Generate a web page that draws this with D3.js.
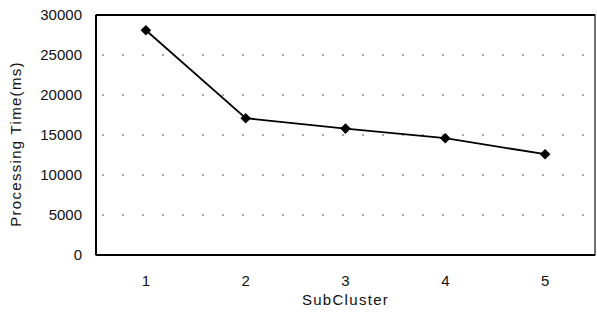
<!DOCTYPE html>
<html><head><meta charset="utf-8">
<script src="https://cdn.jsdelivr.net/npm/d3@7"></script>
<style>body{margin:0;background:#fff}svg{display:block}text{font-family:"Liberation Sans",Arial,sans-serif;fill:#111}</style>
</head><body><svg id="c" width="597" height="315"></svg>
<script>
const categories = ["1","2","3","4","5"];
const values = [28100, 17100, 15800, 14600, 12600];
const yTicks = [0,5000,10000,15000,20000,25000,30000];

const svg = d3.select("#c");
const m = {l:96, r:595, t:15, b:255};
const x = d3.scaleBand().domain(categories).range([m.l, m.r]);
const y = d3.scaleLinear().domain([0,30000]).range([m.b, m.t]);
const FONT = '"Liberation Sans",Arial,sans-serif';

// grid
svg.append("g").selectAll("line").data(yTicks.filter(d=>d>0&&d<30000)).join("line")
  .attr("x1", m.l+6).attr("x2", m.r).attr("y1", d=>y(d)).attr("y2", d=>y(d))
  .attr("stroke","#555").attr("stroke-width",1).attr("stroke-dasharray","2,18");

// frame
svg.append("rect").attr("x",m.l).attr("y",m.t).attr("width",m.r-m.l).attr("height",m.b-m.t)
  .attr("fill","none").attr("stroke","#111").attr("stroke-width",1.2);
svg.append("line").attr("x1",m.l).attr("x2",m.r).attr("y1",m.t).attr("y2",m.t).attr("stroke","#000").attr("stroke-width",1.8);
svg.append("line").attr("x1",m.l).attr("x2",m.l).attr("y1",m.t).attr("y2",m.b).attr("stroke","#000").attr("stroke-width",2);
svg.append("line").attr("x1",m.l).attr("x2",m.r).attr("y1",m.b).attr("y2",m.b).attr("stroke","#000").attr("stroke-width",2);

// axes
const ya = d3.axisLeft(y).tickValues(yTicks).tickSize(0).tickPadding(14).tickFormat(d3.format("d"));
const gy = svg.append("g").attr("transform",`translate(${m.l},0)`).call(ya);
gy.select(".domain").remove();
gy.selectAll("text").attr("font-size",15).style("font-family",FONT).attr("fill","#111");

const xa = d3.axisBottom(x).tickSize(0).tickPadding(20);
const gx = svg.append("g").attr("transform",`translate(0,${m.b})`).call(xa);
gx.select(".domain").remove();
gx.selectAll("text").attr("font-size",15).style("font-family",FONT).attr("fill","#111");

// line
const cx = (i)=>x(categories[i])+x.bandwidth()/2;
const line = d3.line().x((d,i)=>cx(i)).y(d=>y(d));
svg.append("path").datum(values).attr("d",line).attr("fill","none").attr("stroke","#000").attr("stroke-width",1.8);
svg.append("g").selectAll("path").data(values).join("path")
  .attr("d", d3.symbol().type(d3.symbolSquare).size(56))
  .attr("transform",(d,i)=>`translate(${cx(i)},${y(d)}) rotate(45)`)
  .attr("fill","#000");

// labels
svg.append("text").attr("x",(m.l+m.r)/2).attr("y",305).attr("text-anchor","middle").attr("font-size",15)
  .attr("letter-spacing","1.3").text("SubCluster");
svg.append("text").attr("transform",`translate(21,144) rotate(-90)`).attr("text-anchor","middle")
  .attr("font-size",15).attr("letter-spacing","1.3").text("Processing Time(ms)");
</script></body></html>
